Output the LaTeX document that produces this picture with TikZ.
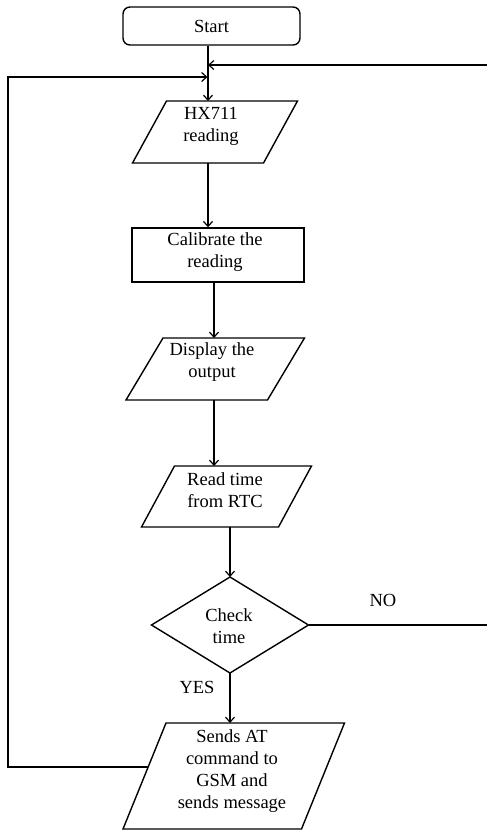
\documentclass[tikz,border=0pt]{standalone}
\usepackage{fontspec}
\setmainfont{Liberation Serif}
\usetikzlibrary{arrows.meta,shapes.geometric,calc}
\newcommand{\mypara}[6]{%
  \node[minimum width=#4pt, minimum height=#5pt, inner sep=0pt, outer sep=0pt] (#1) at (#2,#3) {};
  \draw[shapeline] ($(#1.north west)+(#6/2,0)$) -- ($(#1.north east)+(#6/2,0)$) -- ($(#1.south east)-(#6/2,0)$) -- ($(#1.south west)-(#6/2,0)$) -- cycle;}
\begin{document}
\begin{tikzpicture}[x=1pt,y=-1pt,
  shapeline/.style={line width=1.4pt, line join=miter},
  conn/.style={line width=1.3pt},
  arr/.style={conn, -{Straight Barb[length=5pt,width=9pt,line width=1.2pt]}},
  txt/.style={font=\fontsize{18.5}{22}\selectfont, align=center, inner sep=0pt},
]
\useasboundingbox (0,0) rectangle (487,831);
\fill[white] (0,0) rectangle (487,831);

% shapes
\node[draw, shapeline, rounded corners=7pt, minimum width=177pt, minimum height=38pt, inner sep=0pt, font=\fontsize{18.5}{22}\selectfont] (start) at (211.5,26) {Start};
\mypara{hx}{215}{132}{131}{62}{34}
\node[draw, shapeline, minimum width=172pt, minimum height=54pt, inner sep=0pt] (cal) at (218,255) {};
\mypara{disp}{215.25}{369}{141.5}{62}{37}
\mypara{read}{226.5}{496.5}{137}{61}{33}
\node[draw, shapeline, diamond, minimum width=157pt, minimum height=96pt, inner sep=0pt, outer sep=0pt] (chk) at (230,625) {};
\mypara{sends}{233.75}{776}{178.5}{106}{43}

% texts
\node[txt] (hxt) at (211,126) {HX711\\reading};
\node[txt] (calt) at (215,252) {Calibrate the\\reading};
\node[txt] (dispt) at (212,362.5) {Display the\\output};
\node[txt] (readt) at (225,490.5) {Read time\\from RTC};
\node[txt] (chkt) at (229,626) {Check\\time};
\node[txt] (sendst) at (232,771) {Sends AT\\command to\\GSM and\\sends message};
\node[txt] (no) at (383,600) {NO};
\node[txt] (yes) at (197,687) {YES};

% connector coordinates
\coordinate (jR) at (208,65);
\coordinate (jL) at (207.5,77);
\coordinate (c2) at (214,0);
\coordinate (L) at (8,0);
\coordinate (sl) at (148,767);
\coordinate (Rb) at (488,625);
\coordinate (Rt) at (488,65);

% connectors
\draw[arr] (jR |- start.south) -- (jR |- hx.north);
\draw[arr] (jR |- hx.south) -- (jR |- cal.north);
\draw[arr] (c2 |- cal.south) -- (c2 |- disp.north);
\draw[arr] (c2 |- disp.south) -- (c2 |- read.north);
\draw[arr] (chk.north |- read.south) -- (chk.north);
\draw[arr] (chk.south) -- (chk.south |- sends.north);
\draw[conn] (chk.east) -- (Rb);
\draw[arr] (Rt) -- (jR);
\draw[arr] (sl) -- (L |- sl) -- (L |- jL) -- (jL);
\end{tikzpicture}
\end{document}
